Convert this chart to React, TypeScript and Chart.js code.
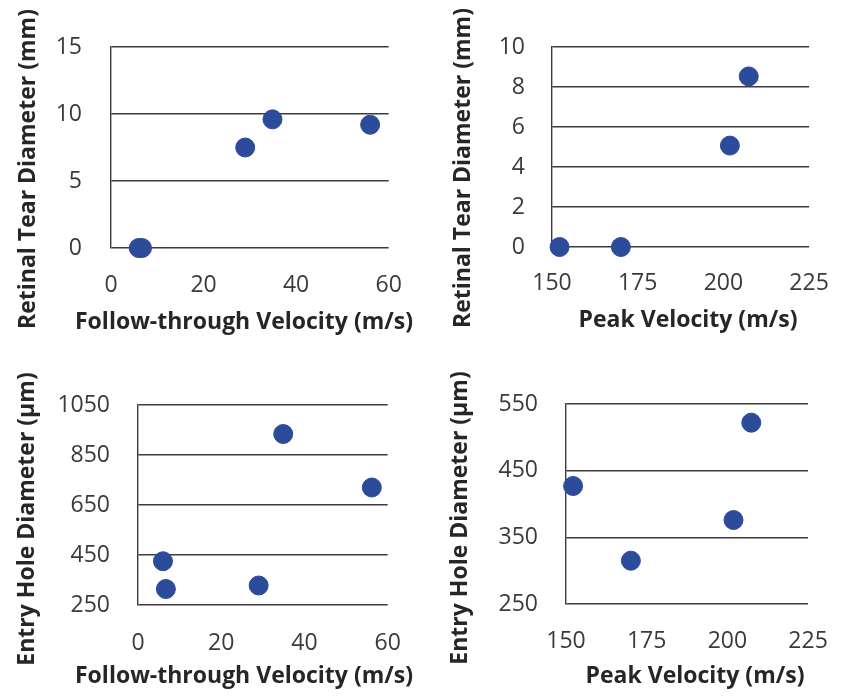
import React, { useEffect, useRef } from "react";
import { Chart, registerables } from "chart.js";

Chart.register(...registerables);

// Data
const followThrough = [6.0, 6.7, 29.0, 34.9, 56.0];
const tearVsFollow = [0, 0, 7.5, 9.6, 9.2];
const peakVelocity = [152.2, 170.1, 201.9, 207.4];
const tearVsPeak = [0, 0, 5.07, 8.53];
const followThrough2 = [6.0, 6.7, 29.0, 34.9, 56.2];
const holeVsFollow = [425, 314, 328, 934, 720];
const holeVsPeak = [427, 315, 376, 522];

const xTitleFollow = "Follow-through Velocity (m/s)";
const xTitlePeak = "Peak Velocity (m/s)";
const yTitleTear = "Retinal Tear Diameter (mm)";
const yTitleHole = "Entry Hole Diameter (\u00b5m)";

const FONT = "'Open Sans', sans-serif";
const TICK_SIZE = 23;
const TITLE_SIZE = 23;
const POINT_COLOR = "#2c4b9a";
const LINE_COLOR = "#3c3c3c";
const TITLE_COLOR = "#262626";

type Cfg = {
  left: number; top: number; w: number; h: number;
  plotLeft: number; plotRight: number; plotTop: number; plotBottom: number;
  yTitleX: number; yTitleY: number; xTitleX: number; xTitleY: number;
  yTickGap: number; xTickGap: number;
  xs: number[]; ys: number[];
  xMin: number; xMax: number; xStep: number;
  yMin: number; yMax: number; yStep: number;
  xTitle: string; yTitle: string;
};

const axisTitlePlugin = {
  id: "axisTitles",
  afterDraw(chart: any, _args: any, opts: any) {
    const ctx = chart.ctx;
    ctx.save();
    ctx.fillStyle = TITLE_COLOR;
    ctx.font = `bold ${TITLE_SIZE}px ${FONT}`;
    ctx.textAlign = "center";
    ctx.textBaseline = "middle";
    ctx.fillText(opts.xTitle, opts.xTitleX, opts.xTitleY);
    ctx.translate(opts.yTitleX, opts.yTitleY);
    ctx.rotate(-Math.PI / 2);
    ctx.fillText(opts.yTitle, 0, 0);
    ctx.restore();
  },
};

function Scatter({ cfg }: { cfg: Cfg }) {
  const ref = useRef<HTMLCanvasElement | null>(null);
  useEffect(() => {
    if (!ref.current) return;
    const tlh = TICK_SIZE * 1.2;
    const data = cfg.xs.map((x, i) => ({ x, y: cfg.ys[i] }));
    const chart = new Chart(ref.current, {
      type: "scatter",
      data: {
        datasets: [
          {
            data,
            backgroundColor: POINT_COLOR,
            borderColor: POINT_COLOR,
            pointRadius: 9.5,
            pointHoverRadius: 9.5,
            clip: false as any,
          },
        ],
      },
      plugins: [axisTitlePlugin],
      options: {
        animation: false,
        responsive: false,
        events: [],
        layout: {
          padding: {
            left: 0,
            top: cfg.plotTop,
            right: cfg.w - cfg.plotRight,
            bottom: 0,
          },
        },
        plugins: {
          legend: { display: false },
          tooltip: { enabled: false },
          axisTitles: {
            xTitle: cfg.xTitle, yTitle: cfg.yTitle,
            xTitleX: cfg.xTitleX, xTitleY: cfg.xTitleY,
            yTitleX: cfg.yTitleX, yTitleY: cfg.yTitleY,
          },
        },
        scales: {
          x: {
            type: "linear",
            min: cfg.xMin,
            max: cfg.xMax,
            ticks: {
              stepSize: cfg.xStep,
              color: "#3a3a3a",
              font: { family: FONT, size: TICK_SIZE },
              padding: cfg.xTickGap - tlh / 2,
              maxRotation: 0,
              callback: (v: any) => String(v),
            },
            grid: { display: false, drawTicks: false },
            border: { display: false },
            title: { display: false },
            afterFit: (s: any) => {
              s.height = cfg.h - cfg.plotBottom;
            },
          },
          y: {
            type: "linear",
            min: cfg.yMin,
            max: cfg.yMax,
            ticks: {
              stepSize: cfg.yStep,
              color: "#3a3a3a",
              font: { family: FONT, size: TICK_SIZE },
              padding: cfg.yTickGap,
              callback: (v: any) => String(v),
            },
            grid: { display: true, drawTicks: false, color: LINE_COLOR, lineWidth: 1.4 },
            border: { display: true, color: LINE_COLOR, width: 1.4 },
            title: { display: false },
            afterFit: (s: any) => {
              s.width = cfg.plotLeft;
            },
          },
        },
      } as any,
    });
    return () => chart.destroy();
  }, [cfg]);
  return (
    <canvas
      ref={ref}
      width={cfg.w}
      height={cfg.h}
      style={{ position: "absolute", left: cfg.left, top: cfg.top, width: cfg.w, height: cfg.h }}
    />
  );
}

const charts: Cfg[] = [
  {
    left: 0, top: 0, w: 425, h: 348,
    plotLeft: 111, plotRight: 390, plotTop: 47, plotBottom: 248,
    yTitleX: 28, yTitleY: 169, xTitleX: 244, xTitleY: 322, yTickGap: 29, xTickGap: 37,
    xs: followThrough, ys: tearVsFollow,
    xMin: 0, xMax: 60, xStep: 20, yMin: 0, yMax: 15, yStep: 5,
    xTitle: xTitleFollow, yTitle: yTitleTear,
  },
  {
    left: 425, top: 0, w: 426, h: 348,
    plotLeft: 127, plotRight: 400, plotTop: 47, plotBottom: 247,
    yTitleX: 38, yTitleY: 168, xTitleX: 263, xTitleY: 320, yTickGap: 27, xTickGap: 36,
    xs: peakVelocity, ys: tearVsPeak,
    xMin: 150, xMax: 225, xStep: 25, yMin: 0, yMax: 10, yStep: 2,
    xTitle: xTitlePeak, yTitle: yTitleTear,
  },
  {
    left: 0, top: 348, w: 425, h: 348,
    plotLeft: 138, plotRight: 389, plotTop: 57, plotBottom: 257,
    yTitleX: 27, yTitleY: 171, xTitleX: 244, xTitleY: 328, yTickGap: 28, xTickGap: 38,
    xs: followThrough2, ys: holeVsFollow,
    xMin: 0, xMax: 60, xStep: 20, yMin: 250, yMax: 1050, yStep: 200,
    xTitle: xTitleFollow, yTitle: yTitleHole,
  },
  {
    left: 425, top: 348, w: 426, h: 348,
    plotLeft: 141, plotRight: 399, plotTop: 56, plotBottom: 256,
    yTitleX: 35, yTitleY: 170, xTitleX: 270, xTitleY: 328, yTickGap: 28, xTickGap: 37,
    xs: peakVelocity, ys: holeVsPeak,
    xMin: 150, xMax: 225, xStep: 25, yMin: 250, yMax: 550, yStep: 100,
    xTitle: xTitlePeak, yTitle: yTitleHole,
  },
];

export default function App() {
  return (
    <div style={{ position: "fixed", left: 0, top: 0, width: 851, height: 696, background: "#fff" }}>
      {charts.map((c, i) => (
        <Scatter key={i} cfg={c} />
      ))}
    </div>
  );
}
